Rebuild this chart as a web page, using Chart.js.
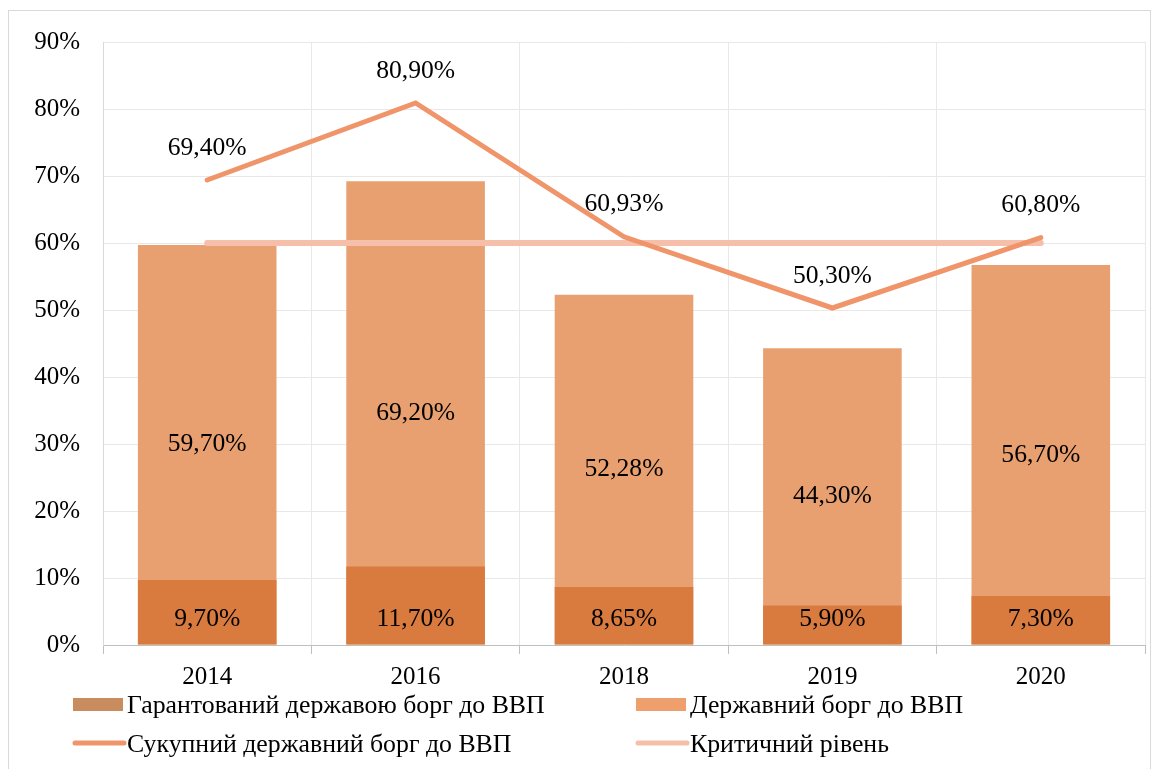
<!DOCTYPE html>
<html>
<head>
<meta charset="utf-8">
<script src="https://cdn.jsdelivr.net/npm/chart.js@4"></script>
<style>
  html, body { margin: 0; padding: 0; background: #ffffff; }
  #wrap { position: relative; width: 1160px; height: 769px; overflow: hidden; }
  #frame { position: absolute; left: 8px; top: 10px; width: 1143px; height: 780px; border: 1px solid #d9d9d9; box-sizing: border-box; pointer-events: none; }
  canvas { position: absolute; left: 0; top: 0; }
</style>
</head>
<body>
<div id="wrap">
  <canvas id="c" width="1160" height="769"></canvas>
  <div id="frame"></div>
</div>
<script>
const categories = ['2014', '2016', '2018', '2019', '2020'];
const guaranteedDebt = [9.70, 11.70, 8.65, 5.90, 7.30];
const stateDebt = [59.70, 69.20, 52.28, 44.30, 56.70];
const totalDebt = [69.40, 80.90, 60.93, 50.30, 60.80];
const criticalLevel = [60, 60, 60, 60, 60];
const yTickValues = [0, 10, 20, 30, 40, 50, 60, 70, 80, 90];

const seriesNames = [
  'Гарантований державою борг до ВВП',
  'Державний борг до ВВП',
  'Сукупний державний борг до ВВП',
  'Критичний рівень'
];

const FONT = '"Liberation Serif", "Times New Roman", serif';
const fmt = v => v.toFixed(2).replace('.', ',') + '%';

const labelPlugin = {
  id: 'valueLabels',
  afterDatasetsDraw(chart) {
    const ctx = chart.ctx;
    ctx.save();
    ctx.font = '25.6px ' + FONT;
    ctx.fillStyle = '#000000';
    ctx.textAlign = 'center';
    ctx.textBaseline = 'middle';
    chart.data.datasets.forEach((ds, di) => {
      const meta = chart.getDatasetMeta(di);
      if (ds.labelMode === 'none') return;
      meta.data.forEach((el, i) => {
        const v = ds.data[i];
        let x = el.x, y;
        if (ds.labelMode === 'bottom') {
          y = el.base - 25;
        } else if (ds.labelMode === 'center') {
          y = (el.y + el.base) / 2;
        } else {
          y = el.y - 32;
        }
        ctx.fillText(fmt(v), x, y);
      });
    });
    ctx.restore();
  }
};

const legendPlugin = {
  id: 'gridLegend',
  afterDraw(chart) {
    const ctx = chart.ctx;
    const cols = [73, 636];
    const rows = [705, 744];
    const swatch = ['#c98c5e', '#ee9f6b', '#f0956a', '#f5bfaa'];
    const kinds = ['box', 'box', 'line', 'line'];
    ctx.save();
    ctx.font = '25.8px ' + FONT;
    ctx.fillStyle = '#000';
    ctx.textBaseline = 'middle';
    ctx.textAlign = 'left';
    seriesNames.forEach((name, i) => {
      const x = cols[i % 2];
      const y = rows[Math.floor(i / 2)];
      if (kinds[i] === 'box') {
        ctx.fillStyle = swatch[i];
        ctx.fillRect(x, y - 7, 50, 13);
      } else {
        ctx.strokeStyle = swatch[i];
        ctx.lineWidth = 5;
        ctx.lineCap = 'round';
        ctx.beginPath();
        ctx.moveTo(x + 2, y - 1);
        ctx.lineTo(x + 51, y - 1);
        ctx.stroke();
      }
      ctx.fillStyle = '#000';
      ctx.fillText(name, x + 54, y + 1);
    });
    ctx.restore();
  }
};

new Chart(document.getElementById('c'), {
  data: {
    labels: categories,
    datasets: [
      {
        type: 'line',
        label: seriesNames[2],
        data: totalDebt,
        borderColor: '#f0956a',
        borderWidth: 5,
        pointRadius: 0,
        tension: 0,
        borderCapStyle: 'round',
        borderJoinStyle: 'miter',
        order: 0,
        labelMode: 'above'
      },
      {
        type: 'line',
        label: seriesNames[3],
        data: criticalLevel,
        borderColor: '#f5bfaa',
        borderWidth: 6,
        pointRadius: 0,
        borderCapStyle: 'round',
        order: 1,
        labelMode: 'none'
      },
      {
        type: 'bar',
        label: seriesNames[0],
        data: guaranteedDebt,
        backgroundColor: '#d97a3f',
        grouped: false,
        barPercentage: 0.665,
        categoryPercentage: 1,
        order: 2,
        labelMode: 'bottom'
      },
      {
        type: 'bar',
        label: seriesNames[1],
        data: stateDebt,
        backgroundColor: '#e8a070',
        grouped: false,
        barPercentage: 0.665,
        categoryPercentage: 1,
        order: 3,
        labelMode: 'center'
      }
    ]
  },
  options: {
    responsive: false,
    animation: false,
    layout: { padding: { top: 42, left: 0, right: 15, bottom: 0 } },
    plugins: {
      legend: { display: false },
      tooltip: { enabled: false }
    },
    scales: {
      x: {
        grid: { color: '#e8e8e8', tickColor: '#bfbfbf', tickLength: 9, offset: true },
        border: { color: '#bfbfbf', width: 1 },
        ticks: { color: '#000', font: { family: FONT, size: 25 }, padding: 8 },
        afterFit(s) { s.height = 124; }
      },
      y: {
        min: 0,
        max: 90,
        grid: { color: '#e8e8e8', drawTicks: false },
        border: { color: '#d9d9d9' },
        afterBuildTicks(s) { s.ticks = yTickValues.map(v => ({ value: v })); },
        ticks: {
          color: '#000',
          font: { family: FONT, size: 25 },
          padding: 23,
          callback: v => v + '%'
        },
        afterFit(s) { s.width = 103; }
      }
    }
  },
  plugins: [labelPlugin, legendPlugin]
});
</script>
</body>
</html>
